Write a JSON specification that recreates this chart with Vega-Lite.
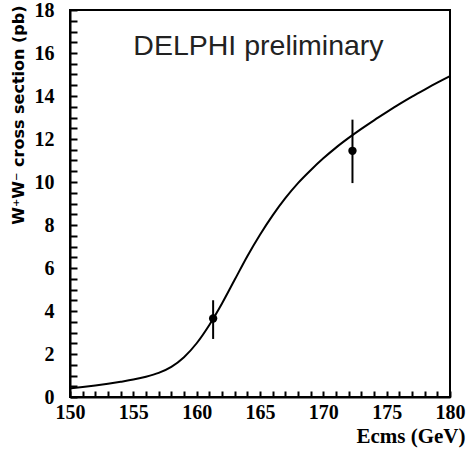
{
  "$schema": "https://vega.github.io/schema/vega-lite/v6.json",
  "width": 380,
  "height": 387,
  "autosize": "none",
  "padding": {"left": 70, "top": 10, "right": 20, "bottom": 55},
  "background": "white",
  "config": {
    "view": {"stroke": "black", "strokeWidth": 2}
  },
  "datasets": {
    "curve": [
      {"E": 150, "xs": 0.40},
      {"E": 151, "xs": 0.47},
      {"E": 152, "xs": 0.54},
      {"E": 153, "xs": 0.62},
      {"E": 154, "xs": 0.71},
      {"E": 155, "xs": 0.81},
      {"E": 156, "xs": 0.94},
      {"E": 157, "xs": 1.12},
      {"E": 158, "xs": 1.40},
      {"E": 159, "xs": 1.85},
      {"E": 160, "xs": 2.50},
      {"E": 161, "xs": 3.35},
      {"E": 162, "xs": 4.35},
      {"E": 163, "xs": 5.45},
      {"E": 164, "xs": 6.55},
      {"E": 165, "xs": 7.55},
      {"E": 166, "xs": 8.45},
      {"E": 167, "xs": 9.25},
      {"E": 168, "xs": 9.95},
      {"E": 169, "xs": 10.55},
      {"E": 170, "xs": 11.10},
      {"E": 171, "xs": 11.60},
      {"E": 172, "xs": 12.05},
      {"E": 173, "xs": 12.47},
      {"E": 174, "xs": 12.87},
      {"E": 175, "xs": 13.25},
      {"E": 176, "xs": 13.62},
      {"E": 177, "xs": 13.97},
      {"E": 178, "xs": 14.30},
      {"E": 179, "xs": 14.62},
      {"E": 180, "xs": 14.92}
    ],
    "measured": [
      {"E": 161.3, "xs": 3.65, "lo": 2.7, "hi": 4.5},
      {"E": 172.3, "xs": 11.45, "lo": 9.95, "hi": 12.9}
    ],
    "label": [
      {"E": 155, "xs": 15.9, "text": "DELPHI preliminary"}
    ]
  },
  "encoding": {
    "x": {
      "field": "E",
      "type": "quantitative",
      "scale": {"domain": [150, 180], "nice": false},
      "axis": {
        "zindex": 2,
        "domain": true,
        "domainColor": "black",
        "domainWidth": 2,
        "grid": false,
        "ticks": true,
        "tickColor": "black",
        "tickOpacity": 1,
        "tickWidth": 2,
        "tickSize": -6,
        "values": [150,151,152,153,154,155,156,157,158,159,160,161,162,163,164,165,166,167,168,169,170,171,172,173,174,175,176,177,178,179,180],
        "labelExpr": "datum.value % 5 === 0 ? '' + datum.value : ''",
        "labelPadding": 11,
        "labelOverlap": false,
        "labelFlush": false,
        "labelColor": "black",
        "labelFont": "Liberation Serif",
        "labelFontWeight": "bold",
        "labelFontSize": 20,
        "title": "Ecms (GeV)",
        "titleColor": "black",
        "titleFont": "Liberation Serif",
        "titleFontWeight": "bold",
        "titleFontSize": 21,
        "titleAnchor": "end",
        "titleAlign": "right",
        "titleBaseline": "alphabetic",
        "titleX": 395,
        "titleY": 45
      }
    },
    "y": {
      "field": "xs",
      "type": "quantitative",
      "scale": {"domain": [0, 18], "nice": false},
      "axis": {
        "zindex": 2,
        "domain": true,
        "domainColor": "black",
        "domainWidth": 2,
        "grid": false,
        "ticks": true,
        "tickColor": "black",
        "tickOpacity": 1,
        "tickWidth": 2,
        "tickSize": -7,
        "values": [0,0.5,1,1.5,2,2.5,3,3.5,4,4.5,5,5.5,6,6.5,7,7.5,8,8.5,9,9.5,10,10.5,11,11.5,12,12.5,13,13.5,14,14.5,15,15.5,16,16.5,17,17.5,18],
        "labelExpr": "datum.value % 2 === 0 ? '' + datum.value : ''",
        "labelPadding": 23,
        "labelOverlap": false,
        "labelFlush": false,
        "labelColor": "black",
        "labelFont": "Liberation Serif",
        "labelFontWeight": "bold",
        "labelFontSize": 20,
        "title": "W⁺W⁻ cross section (pb)",
        "titleColor": "black",
        "titleFont": "DejaVu Sans",
        "titleFontWeight": "bold",
        "titleFontSize": 16,
        "titleAngle": -90,
        "titleAnchor": "end",
        "titleAlign": "right",
        "titleBaseline": "middle",
        "titleX": -52,
        "titleY": -5
      }
    }
  },
  "layer": [
    {
      "data": {"name": "curve"},
      "mark": {"type": "line", "interpolate": "monotone", "color": "black", "strokeWidth": 2}
    },
    {
      "data": {"name": "measured"},
      "mark": {"type": "rule", "color": "black", "strokeWidth": 2},
      "encoding": {
        "y": {"field": "lo", "type": "quantitative"},
        "y2": {"field": "hi"}
      }
    },
    {
      "data": {"name": "measured"},
      "mark": {"type": "point", "filled": true, "shape": "circle", "size": 70, "color": "black", "opacity": 1}
    },
    {
      "data": {"name": "label"},
      "mark": {"type": "text", "font": "Liberation Sans", "fontSize": 28.5, "align": "left", "baseline": "alphabetic", "color": "#222"},
      "encoding": {
        "text": {"field": "text"}
      }
    }
  ]
}
